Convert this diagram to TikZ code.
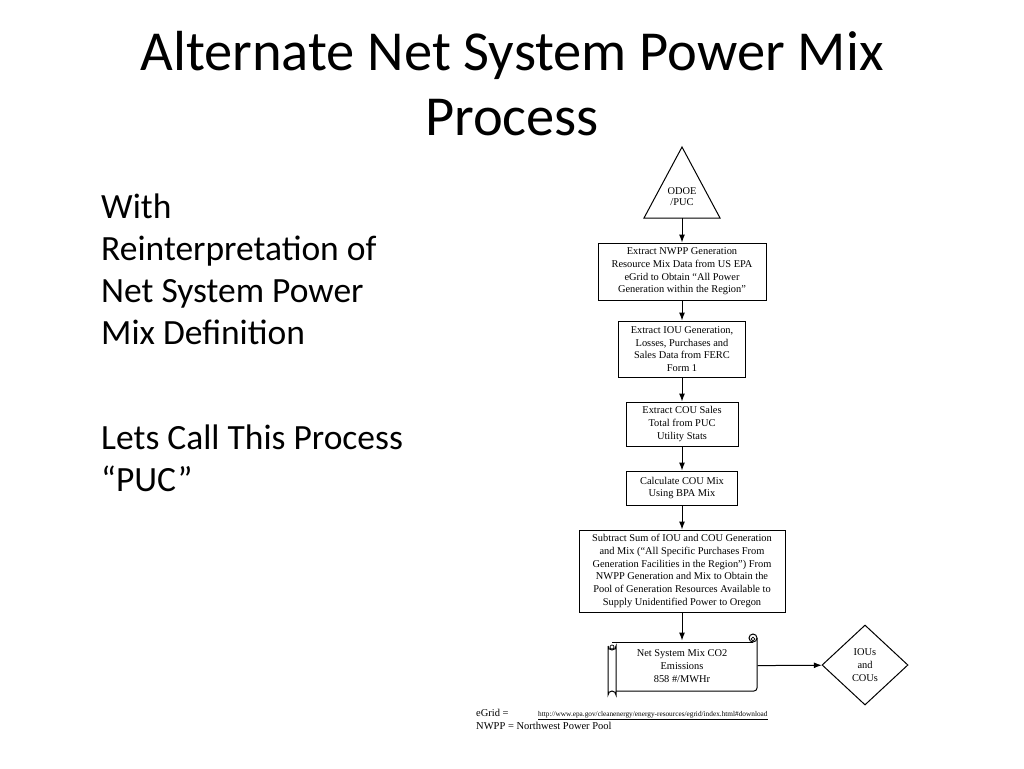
\documentclass[tikz,border=0pt]{standalone}
\usepackage{fontspec}
\setmainfont{Liberation Serif}
\newfontfamily\titlefont{Carlito}
\usetikzlibrary{shapes.geometric,arrows.meta}
\begin{document}
\begin{tikzpicture}[x=1pt,y=-1pt,
box/.style={draw, line width=1pt, align=center, inner sep=0pt, font=\fontsize{10.4}{12.7}\selectfont},
arr/.style={-{Latex[length=8pt,width=6pt]}, line width=1pt}]
\useasboundingbox[fill=white] (0,0) rectangle (1024,768);

\node (title) at (512,135) [anchor=base, align=center, inner sep=0pt, font=\titlefont\fontsize{56.5}{65}\selectfont] {Alternate Net System Power Mix\\Process};
\node (t1) at (101,344) [anchor=base west, align=left, inner sep=0pt, font=\titlefont\fontsize{35.5}{41.7}\selectfont] {With\\Reinterpretation of\\Net System Power\\Mix Definition};
\node (t2) at (101,491) [anchor=base west, align=left, inner sep=0pt, font=\titlefont\fontsize{35.5}{41.7}\selectfont] {Lets Call This Process\\“PUC”};

% triangle
\draw[line width=1pt] (682,147) -- (720,218) -- (644,218) -- cycle;
\coordinate (0b) at (682,218);
\node (0) at (682,197) [align=center, inner sep=0pt, font=\fontsize{10.4}{11}\selectfont] {ODOE\\/PUC};

\node (1) at (682,271.5) [box, minimum width=168, minimum height=57] {Extract NWPP Generation\\Resource Mix Data from US EPA\\eGrid to Obtain “All Power\\Generation within the Region”};
\node (2) at (682,349) [box, minimum width=127, minimum height=56] {Extract IOU Generation,\\Losses, Purchases and\\Sales Data from FERC\\Form 1};
\node (3) at (682,424) [box, minimum width=112, minimum height=44] {Extract COU Sales\\Total from PUC\\Utility Stats};
\node (4) at (682,488) [box, minimum width=111, minimum height=34] {Calculate COU Mix\\Using BPA Mix};
\node (5) at (682,571) [box, minimum width=206, minimum height=82] {Subtract Sum of IOU and COU Generation\\and Mix (“All Specific Purchases From\\Generation Facilities in the Region”) From\\NWPP Generation and Mix to Obtain the\\Pool of Generation Resources Available to\\Supply Unidentified Power to Oregon};
\node (6) at (682,666) [box, draw=none, minimum width=150, minimum height=50] {Net System Mix CO2\\Emissions\\858 \#/MWHr};
\node (7) at (865,665) [box, diamond, minimum width=86, minimum height=80] {IOUs\\and\\COUs};

% scroll
\draw[line width=1pt] (612,642) -- (753,642);
\draw[line width=1pt] (753,638) circle (4);
\draw[line width=1pt, rounded corners=3pt] (757,638) -- (757,691) -- (616,691);
\draw[line width=1pt] (608,646) -- (608,695) arc[start angle=180, end angle=360, radius=4] -- (616,646) arc[start angle=0, end angle=180, radius=4];
\draw[line width=.7pt] (612,647) circle (2);
\draw[line width=.7pt] (753,639) circle (1.8);

\draw
(0b) edge[arr] (1)
(1) edge[arr] (2)
(2) edge[arr] (3)
(3) edge[arr] (4)
(4) edge[arr] (5)
(5) edge[arr] (6)
(6) edge[arr] (7);

\node (eg) at (476,716) [anchor=base west, inner sep=0pt, font=\fontsize{10.5}{12}\selectfont] {eGrid =};
\node (url) at (538,716) [anchor=base west, inner sep=0pt, font=\fontsize{7.3}{8}\selectfont] {\underline{http://www.epa.gov/cleanenergy/energy-resources/egrid/index.html\#download}};
\node (nw) at (476,729) [anchor=base west, inner sep=0pt, font=\fontsize{10.5}{12}\selectfont] {NWPP = Northwest Power Pool};
\end{tikzpicture}
\end{document}
